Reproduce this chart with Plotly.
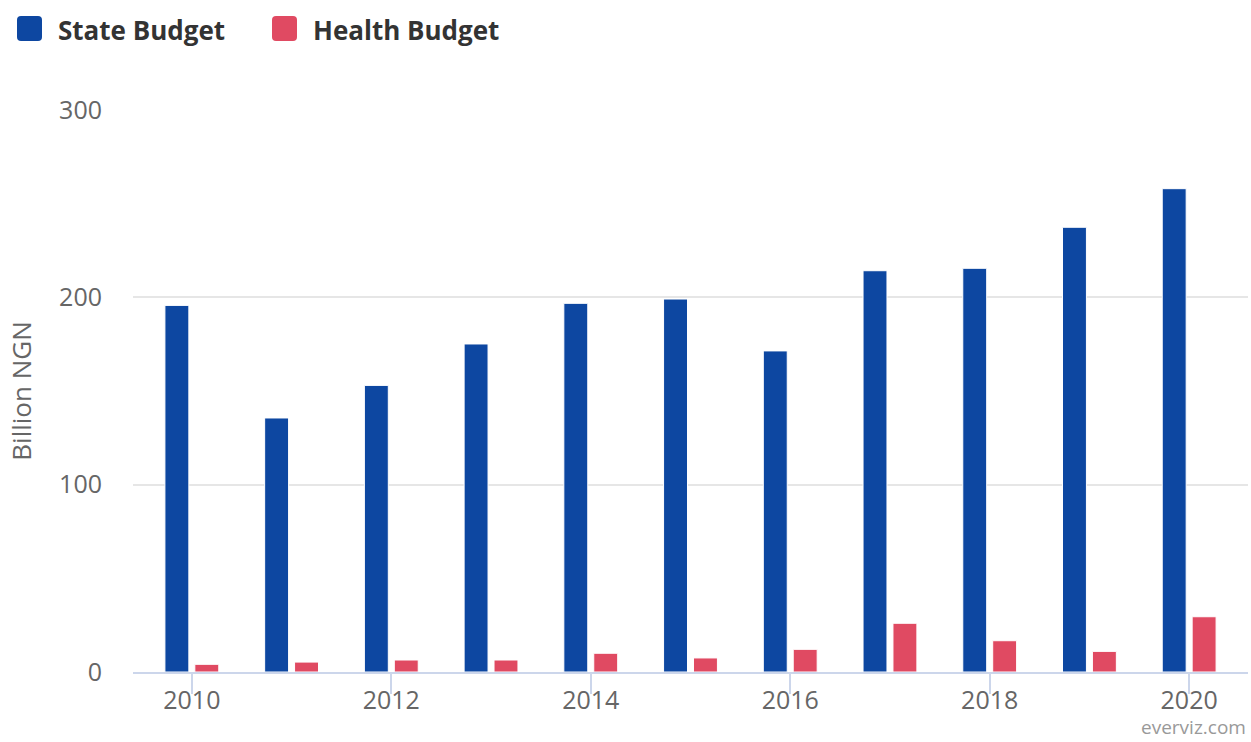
import plotly.graph_objects as go

years = [2010, 2011, 2012, 2013, 2014, 2015, 2016, 2017, 2018, 2019, 2020]
state_budget = [195.7, 135.6, 153.0, 175.1, 196.8, 199.1, 171.4, 214.2, 215.5, 237.4, 258.0]
health_budget = [4.1, 5.3, 6.4, 6.4, 10.0, 7.5, 12.1, 26.0, 16.7, 11.0, 29.5]
series_names = ["State Budget", "Health Budget"]
series_colors = ["#0d47a1", "#e04a62"]
y_ticks = [0, 100, 200, 300]
x_ticks = [2010, 2012, 2014, 2016, 2018, 2020]

W, H = 1251, 742
L, R, T, B = 133, 3, 110, 70
PW, PH = W - L - R, H - T - B

def px_x(p):
    return (p - L) / PW

def px_y(p):
    return (H - B - p) / PH

fig = go.Figure()
for name, vals, col in zip(series_names, [state_budget, health_budget], series_colors):
    fig.add_trace(go.Bar(
        x=years, y=vals, name=name, marker_color=col,
        marker_line_color="#ffffff", marker_line_width=1,
        showlegend=False,
    ))

# custom legend (large rounded squares + bold text)
legend_items = [(17, 56), (272, 311)]
shapes = []
annotations = []
for (sx, tx), name, col in zip(legend_items, series_names, series_colors):
    x0, x1 = sx, sx + 25
    y0, y1 = 16, 41
    r = 4
    path = (
        f"M {px_x(x0 + r)},{px_y(y0)} L {px_x(x1 - r)},{px_y(y0)} "
        f"Q {px_x(x1)},{px_y(y0)} {px_x(x1)},{px_y(y0 + r)} "
        f"L {px_x(x1)},{px_y(y1 - r)} Q {px_x(x1)},{px_y(y1)} {px_x(x1 - r)},{px_y(y1)} "
        f"L {px_x(x0 + r)},{px_y(y1)} Q {px_x(x0)},{px_y(y1)} {px_x(x0)},{px_y(y1 - r)} "
        f"L {px_x(x0)},{px_y(y0 + r)} Q {px_x(x0)},{px_y(y0)} {px_x(x0 + r)},{px_y(y0)} Z"
    )
    shapes.append(dict(type="path", xref="paper", yref="paper", path=path,
                       fillcolor=col, line=dict(width=0)))
    annotations.append(dict(
        text=f"<b>{name}</b>", xref="paper", yref="paper",
        x=px_x(tx), y=px_y(30), xanchor="left", yanchor="middle",
        showarrow=False, font=dict(family="Open Sans", size=26, color="#333333"),
    ))

annotations.append(dict(
    text="everviz.com", xref="paper", yref="paper",
    x=px_x(1248), y=px_y(742), xanchor="right", yanchor="bottom",
    showarrow=False, font=dict(family="Open Sans", size=19, color="#999999"),
))

fig.update_layout(
    width=W, height=H,
    margin=dict(l=L, r=R, t=T, b=B, pad=0),
    paper_bgcolor="#ffffff", plot_bgcolor="#ffffff",
    barmode="group", bargap=0.4, bargroupgap=0.2,
    font=dict(family="Open Sans", color="#666666", size=25),
    shapes=shapes, annotations=annotations,
    xaxis=dict(
        range=[2009.41, 2020.59], tickvals=x_ticks, ticktext=[str(v) for v in x_ticks],
        showgrid=False, zeroline=False,
        showline=True, linecolor="#ccd6eb", linewidth=2,
        ticks="outside", ticklen=20, tickwidth=2, tickcolor="#ccd6eb",
        ticklabelstandoff=-15,
        tickfont=dict(size=25, color="#666666"),
    ),
    yaxis=dict(
        range=[0, 300], tickvals=y_ticks,
        showgrid=True, gridcolor="#e6e6e6", gridwidth=2,
        zeroline=False, showline=False, ticks="",
        ticklabelstandoff=30,
        tickfont=dict(size=25, color="#666666"),
        title=dict(text="Billion NGN", standoff=20, font=dict(size=26, color="#666666")),
    ),
)

fig.write_html("out.html")
